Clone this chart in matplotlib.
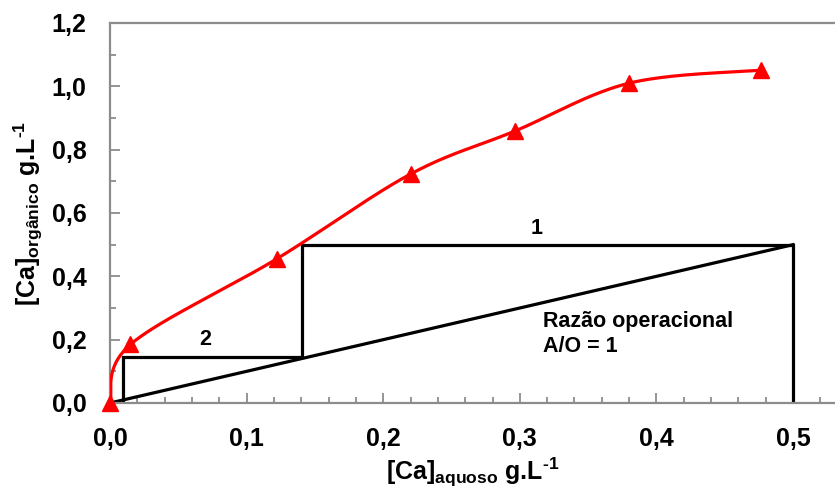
import numpy as np
import matplotlib
matplotlib.use('Agg')
import matplotlib.pyplot as plt
from matplotlib.ticker import MultipleLocator, FuncFormatter

plt.rcParams['font.family'] = ['Liberation Sans', 'DejaVu Sans']
plt.rcParams['mathtext.default'] = 'regular'

# ── Data ──────────────────────────────────────────────────────────
ca_aq = [0.0, 0.015, 0.122, 0.220, 0.2965, 0.380, 0.4766]
ca_org = [0.0, 0.185, 0.455, 0.723, 0.859, 1.010, 1.051]

op_x = [0.0, 0.5]          # linha operacional A/O = 1
op_y = [0.0, 0.5]

stage_x = [0.5, 0.5, 0.1404, 0.1404, 0.0095, 0.0095]
stage_y = [0.0, 0.5, 0.5, 0.145, 0.145, 0.0095]

XMAX = 0.5307
YMAX = 1.2


def smooth(xs, ys, sx, sy, n=40):
    # Excel-like smoothed line (Bezier with Catmull-Rom control points), in screen scale
    p = np.column_stack([np.asarray(xs) * sx, np.asarray(ys) * sy])
    out = []
    for i in range(len(p) - 1):
        p0 = p[i - 1] if i > 0 else p[i]
        p1, p2 = p[i], p[i + 1]
        p3 = p[i + 2] if i + 2 < len(p) else p[i + 1]
        c1 = p1 + (p2 - p0) / 6
        c2 = p2 - (p3 - p1) / 6
        t = np.linspace(0, 1, n)[:, None]
        seg = ((1 - t) ** 3) * p1 + 3 * ((1 - t) ** 2) * t * c1 + 3 * (1 - t) * t ** 2 * c2 + t ** 3 * p2
        out.append(seg)
    out = np.vstack(out)
    return out[:, 0] / sx, out[:, 1] / sy


fig = plt.figure(figsize=(8.35, 4.93), dpi=100)
ax = fig.add_axes([110 / 835, 1 - 403 / 493, 1 - 110 / 835, (403 - 23) / 493])

grey = '#8c8c8c'
sx, sy = 725 / XMAX, 380 / YMAX
cx, cy = smooth(ca_aq, ca_org, sx, sy)
ax.plot(cx, cy, color='#ff0000', lw=2.3, zorder=3)
ax.plot(ca_aq, ca_org, '^', color='#ff0000', ms=11.5, zorder=4, clip_on=False)

ax.plot(op_x, op_y, color='black', lw=2.3, zorder=2)
ax.plot(stage_x, stage_y, color='black', lw=2.3, zorder=2, solid_joinstyle='miter')

ax.text(0.3126, 0.551, '1', fontsize=15.5, fontweight='bold', ha='center', va='center')
ax.text(0.0695, 0.199, '2', fontsize=15.5, fontweight='bold', ha='center', va='center')
ax.text(0.317, 0.218, 'Razão operacional\nA/O = 1', fontsize=15.5, fontweight='bold',
        ha='left', va='center', linespacing=1.25)

ax.set_xlim(0, XMAX)
ax.set_ylim(0, YMAX)
ax.xaxis.set_major_locator(MultipleLocator(0.1))
ax.xaxis.set_minor_locator(MultipleLocator(0.02))
ax.yaxis.set_major_locator(MultipleLocator(0.2))
ax.yaxis.set_minor_locator(MultipleLocator(0.1))
fmt = FuncFormatter(lambda v, p: f'{v:.1f}'.replace('.', ','))
ax.xaxis.set_major_formatter(fmt)
ax.yaxis.set_major_formatter(fmt)
ax.tick_params(which='both', direction='in', color=grey, width=1.3, labelsize=18, pad=17)
ax.tick_params(which='major', length=7)
ax.tick_params(which='minor', length=4)
for lab in ax.get_xticklabels() + ax.get_yticklabels():
    lab.set_fontweight('bold')

for s in ['left', 'bottom', 'top']:
    ax.spines[s].set_color(grey)
    ax.spines[s].set_linewidth(1.6)
ax.spines['right'].set_visible(False)

ax.set_xlabel('[Ca]$_{aquoso}$ g.L$^{\u2010 1}$'.replace('\u2010 ', '\u2010'),
              fontsize=18, fontweight='bold', labelpad=4)
ax.set_ylabel('[Ca]$_{orgânico}$ g.L$^{\u20101}$', fontsize=18, fontweight='bold', labelpad=5)

fig.savefig('out.png', dpi=100)
